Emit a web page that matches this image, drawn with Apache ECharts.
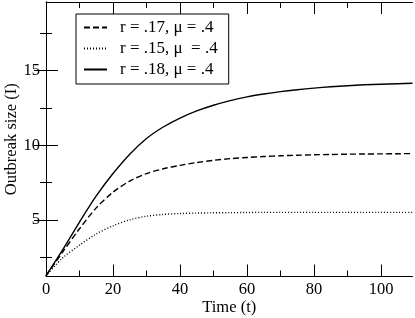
<!DOCTYPE html>
<html>
<head>
<meta charset="utf-8">
<script src="https://cdn.jsdelivr.net/npm/echarts@6/dist/echarts.min.js"></script>
<style>html,body{margin:0;padding:0;background:#fff}#c{width:415px;height:318px}</style>
</head>
<body>
<div id="c"></div>
<script>
var times = [0, 5, 10, 15, 20, 25, 30, 35, 40, 45, 50, 55, 60, 65, 70, 75, 80, 85, 90, 95, 100, 105, 109.4];
var seriesNames = ['r = .17, \u03bc = .4', 'r = .15, \u03bc  = .4', 'r = .18, \u03bc = .4'];
var dashedValues = [1.25, 2.85, 4.4, 5.8, 6.85, 7.6, 8.1, 8.42, 8.65, 8.84, 8.99, 9.1, 9.18, 9.24, 9.29, 9.33, 9.36, 9.38, 9.4, 9.41, 9.42, 9.43, 9.44];
var dottedValues = [1.25, 2.45, 3.3, 4.05, 4.6, 5.0, 5.24, 5.36, 5.42, 5.45, 5.47, 5.48, 5.49, 5.5, 5.5, 5.5, 5.5, 5.5, 5.5, 5.5, 5.5, 5.5, 5.5];
var solidValues  = [1.25, 3.0, 4.85, 6.6, 8.1, 9.4, 10.45, 11.22, 11.82, 12.3, 12.68, 12.99, 13.24, 13.43, 13.59, 13.72, 13.83, 13.92, 13.99, 14.05, 14.09, 14.12, 14.15];
var xMajorTicks = [0, 20, 40, 60, 80, 100];
var xMinorTicks = [10, 30, 50, 70, 90];
var yMajorTicks = [5, 10, 15];
var yMinorTicks = [2.5, 7.5, 12.5, 17.5];

var FONT = 'Liberation Serif';
var X_MIN = 0, X_MAX = 109.4, Y_MIN = 1.2, Y_MAX = 19.6;

function pairs(vals) { return times.map(function (t, i) { return [t, vals[i]]; }); }

function xAx(pos, ticks, len, main, labels) {
  return {
    type: 'value', position: pos, min: X_MIN, max: X_MAX,
    axisLine: { show: main, lineStyle: { color: '#000', width: 1 } },
    axisTick: { show: true, inside: true, length: len, customValues: ticks, lineStyle: { color: '#000', width: 1 } },
    axisLabel: labels ? { show: true, customValues: ticks, color: '#000', fontFamily: FONT, fontSize: 16.5, margin: 5 } : { show: false },
    splitLine: { show: false }
  };
}
function yAx(pos, ticks, len, main, labels) {
  return {
    type: 'value', position: pos, min: Y_MIN, max: Y_MAX,
    axisLine: { show: main, lineStyle: { color: '#000', width: 1 } },
    axisTick: { show: true, inside: true, length: len, customValues: ticks, lineStyle: { color: '#000', width: 1 } },
    axisLabel: labels ? { show: true, customValues: ticks, color: '#000', fontFamily: FONT, fontSize: 16.5, margin: 6 } : { show: false },
    splitLine: { show: false }
  };
}

var xa0 = xAx('bottom', xMajorTicks, 12, true, true);
xa0.name = 'Time (t)'; xa0.nameLocation = 'middle'; xa0.nameGap = 23; xa0.nameMoveOverlap = false;
xa0.nameTextStyle = { color: '#000', fontFamily: FONT, fontSize: 16.5 };
var ya0 = yAx('left', yMajorTicks, 12, true, true);
ya0.name = 'Outbreak size (I)'; ya0.nameLocation = 'middle'; ya0.nameGap = 26; ya0.nameMoveOverlap = false;
ya0.nameTextStyle = { color: '#000', fontFamily: FONT, fontSize: 16.5 };

var chart = echarts.init(document.getElementById('c'), null, { renderer: 'canvas' });
chart.setOption({
  animation: false,
  backgroundColor: '#fff',
  grid: { left: 46, right: 2.5, top: 2, bottom: 41.5, containLabel: false, outerBoundsMode: 'none' },
  xAxis: [xa0, xAx('bottom', xMinorTicks, 6, false, false), xAx('top', xMajorTicks, 12, true, false), xAx('top', xMinorTicks, 6, false, false)],
  yAxis: [ya0, yAx('left', yMinorTicks, 6, false, false), yAx('right', yMajorTicks, 12, true, false), yAx('right', yMinorTicks, 6, false, false)],
  legend: {
    orient: 'vertical', left: 76, top: 14,
    borderColor: '#000', borderWidth: 1, borderRadius: 0,
    padding: [5, 11, 6, 7],
    itemWidth: 23, itemHeight: 14, itemGap: 4,
    itemStyle: { opacity: 0 },
    textStyle: { color: '#000', fontFamily: FONT, fontSize: 17, padding: [0, 0, 0, 8] },
    data: seriesNames
  },
  series: [
    { name: seriesNames[0], type: 'line', data: pairs(dashedValues), smooth: 0.3, symbol: 'none',
      itemStyle: { color: '#000' }, lineStyle: { color: '#000', width: 1.4, type: [6, 3] } },
    { name: seriesNames[1], type: 'line', data: pairs(dottedValues), smooth: 0.3, symbol: 'none',
      itemStyle: { color: '#000' }, lineStyle: { color: '#000', width: 1.4, type: [1, 2] } },
    { name: seriesNames[2], type: 'line', data: pairs(solidValues), smooth: 0.3, symbol: 'none',
      itemStyle: { color: '#000' }, lineStyle: { color: '#000', width: 1.4, type: 'solid' } }
  ]
});
</script>
</body>
</html>
